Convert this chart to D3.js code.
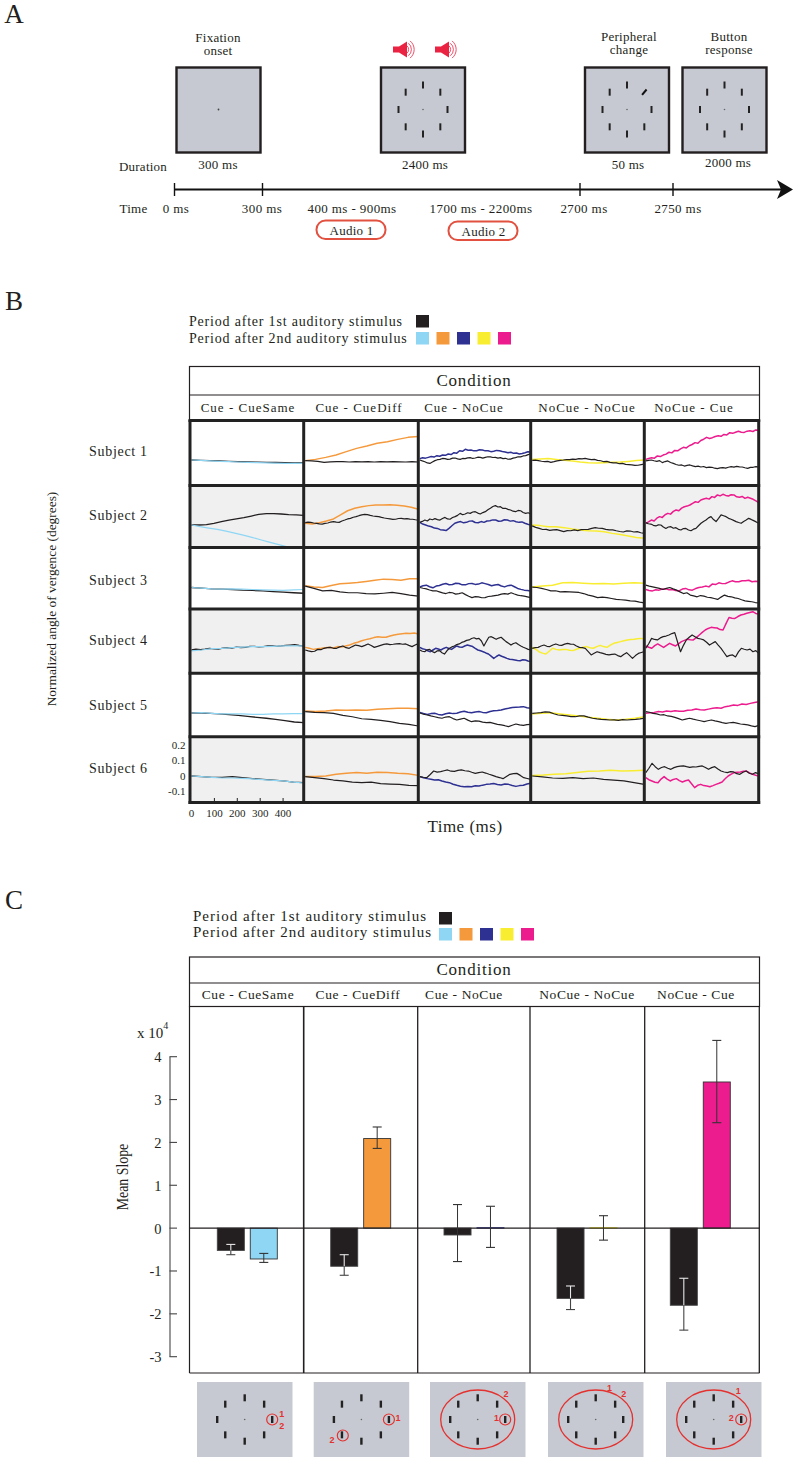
<!DOCTYPE html>
<html><head><meta charset="utf-8">
<script src="https://cdn.jsdelivr.net/npm/d3@7"></script>
<style>html,body{margin:0;padding:0;background:#fff}svg{display:block}text{font-family:"Liberation Serif",serif;fill:#231f20}</style>
</head><body><div id="chart"></div>
<script>
// ---------- data ----------
const conditions = ["Cue - CueSame","Cue - CueDiff","Cue - NoCue","NoCue - NoCue","NoCue - Cue"];
const subjects = ["Subject 1","Subject 2","Subject 3","Subject 4","Subject 5","Subject 6"];
const firstColor = "#231f20";
const secondColors = ["#8fd6f4","#f59a3c","#2e3192","#f9ed32","#ec1c8e"];
const legendLabels = ["Period after 1st auditory stimulus","Period after 2nd auditory stimulus"];
// vergence traces, hundredths of a degree, evenly sampled over 0-490 ms; one list per condition
const s1First = [
 [0,-.2,-.4,-.6,-.9,-1.1,-1.2,-1.4,-1.5,-1.6,-1.7,-1.8,-1.7],
 [-.4,-.6,-.9,-1.5,-1.2,-1.1,-1,-1.3,-1.1,-1.2,-1,-1.3,-1.1,-1.2,-1.1,-1.2,-1.3,-1.1,-1.3],
 [0,-.6,-1.1,-1.9,-2.2,-1.3,-.4,.2,.4,1,.9,.4,.6,1.2,1.3,.7,.4,1,.9,1.4,1.5,1,1.3,1.8,1.7,1.2,1.7,2.1,2,1.6,1.7,1.2,1.5,.9,1.1,.5,.6,1.2,1.5,2.1,2,2.6,2.8,3.5,3.9],
 [-.2,-.1,-.4,-.8,-1.1,-.9,-1.5,-1.1,-.6,-.2,0,.3,.2,.6,.4,.9,.7,1,.6,.2,.4,-.2,-.5,-1.1,-.9,-1.5,-1.8,-1.9,-2.4,-2.2,-2.8,-3,-3.2,-3.5,-3.4,-3,-2.6],
 [-.6,-.2,0,-.5,-.9,-.4,-1.7,-1,-.6,-1.6,-2.2,-2.9,-3.4,-3.2,-3.9,-3.5,-3.2,-3.8,-4.3,-4,-4.5,-4.2,-4.9,-4.6,-4.7,-5.3,-5.6,-5.1,-4.9,-5.2,-4.7,-4.3,-4.6,-4.1,-4.4,-4.5,-5,-5.4,-4.8,-4.7,-4.3,-4.5]];
const s1Second = [
 [0,-.3,-.6,-.9,-1.1,-1.3,-1.5,-1.7,-1.9,-2,-2.2,-2.2,-2],
 [-.4,.4,1.7,3.2,5.4,7.5,9,10.8,11.8,13.3,14.6,15.2],
 [.9,1.5,1.2,1.7,2.2,1.9,2.8,2.4,3.2,3,3.9,3.5,4.7,4.4,6,5.6,6.9,6.3,6.5,5.9,6,6.6,6.5,5.9,6,5.4,5.6,6.2,6,5.5,5.2,4.7,5,4.3,4.5,3.9,4.2,4.7,5.3,5.2],
 [.4,.6,.9,.4,-.2,-.6,-1.3,-1.7,-1.9,-1.7,-1.5,-1.3,-.9,-.4,0],
 [.4,1,1.5,1.2,2.6,2.2,3.2,3.8,5,4.6,6.2,5.9,7.2,8.2,7.8,9.2,10,11.2,10.8,12.6,13.4,14.6,13.9,14.4,15.2,15.7,15.3,16.5,16.2,17.6,17.2,17.9,18.5,17.9,17.8,18.6,18.9,18.4,19.4,19.2]];
const s2First = [
 [0,0,.2,1.1,2.2,3.2,3.9,4.7,5.8,6.9,7.3,7.3,7.1,6.7,6.5,6.2],
 [1.5,1.9,1.7,1.3,1.1,.7,.6,1,1.3,1.9,2.2,1.8,1.7,2.6,3.2,3.9,4.3,5,5.4,6,6.5,6.8,6.7,6.2,5.8,5.6,5.4,4.9,4.5,4.2,3.9,3.6,3.7,4.2,4.3,4,4.1,3.8,3.7,3.4,3.2],
 [1.7,2.3,3.2,2.6,3.9,3.4,4.1,3.5,3.2,4.2,4.9,3.9,3.7,4.8,5.4,6.2,7.5,6.6,7.1,7.9,7.5,8.4,8.6,7.7,7.1,8,8.6,9.8,10.8,11.9,12.5,11.6,11.8,10.7,10.8,10.1,9.7,8.9,8.6,9.4,9.2,8.1,7.5,7.9,7.1],
 [-.6,-1.5,-2.2,-2.9,-2.8,-3.5,-3.1,-3,-3.6,-4.3,-3.6,-3.7,-3.2,-3.6,-3,-2.9,-2.8,-2.2,-1.7,-2.1,-2.2,-2.8,-3.2,-3.1,-3.7,-4.2,-4.5,-3.8,-3.9,-4.5,-4.3,-5,-5.4],
 [1.5,.8,.6,-.2,-.6,.1,0,-1.3,-2.2,-1.3,-1.1,-2.1,-1.7,-2.8,-3.2,-2.3,-2.2,-3.2,-3.7,-2.7,-2.2,-.5,1.1,2.3,3.2,4.6,5.4,3.5,2.2,4.3,6.5,6,5.4,4.3,3.7,3,2.2,1.6,1.1,2.3,3.2,4.3,3.6,2.8,2,1.1]];
const s2Second = [
 [0,-1.1,-2,-2.8,-4,-5.2,-6.5,-8,-9.5,-11,-12.5,-14,-15.5,-17],
 [1.1,.6,1.5,2.6,3.9,6.5,9.2,10.8,11.8,12.5,12.9,12.9,13.1,12.7,12.3,11.4,10.1],
 [1.7,.6,0,-.7,-1.1,-2,-2.2,-3,-3.2,-3.6,-2.2,-.5,1.1,1.8,2.2,1.4,1.7,2.5,2.6,1.6,1.5,2.2,1.7,2.6,2.8,3.3,3.2,2.4,2.6,3.4,3.2,2.5,2.8,2.1,1.7,2,1.1,.5,0],
 [0,-.4,-1.1,-1.1,-1.7,-2.6,-3.2,-3.7,-3.9,-4.3,-5.4,-6.2,-7.1,-8,-8.6],
 [1.1,2,3.2,2.6,4.4,5.4,4.9,6.6,7.5,7,8.8,9.7,9.2,10.9,11.8,12.2,12.9,14,15,14.6,16.1,16.8,17.2,16.7,18.3,17.8,19.4,18.8,19.8,19.1,18.7,19.5,19.4,18.2,17.9,18.4,17.2,17.9,17.3,16.6,15.5,14.4]];
const s3First = [
 [0,-.4,-.9,-1.1,-1.3,-1.7,-1.9,-2.2,-2.6,-3,-3.4,-3.7],
 [.9,-.6,-2.2,-1.9,-2.8,-3.4,-3.4,-3.9,-4.1,-3.7,-3.2,-3.9,-4.9,-5.6],
 [0,-.5,-.9,-1.6,-2.2,-2.1,-2.8,-3.5,-3.9,-3.2,-3.4,-4.3,-3.9,-3.4,-4.6,-5.6,-6.5,-5.9,-6,-6.6,-6.5,-5.8,-5.6,-5.2,-4.9,-4.3,-3.9,-4.3,-3.4,-4.2,-4.9,-5.3,-5.6,-6,-6.5],
 [.2,0,-.6,-1.3,-2.2,-2.1,-2.8,-2.6,-2.8,-3,-3.2,-3.9,-4.9,-5.6,-6.5,-6.2,-6.5,-7.1,-7.7,-7.9,-8.2,-8.6,-8.8,-9.4,-9.9],
 [1.5,.9,.4,-.1,-.6,-1.3,-.6,0,-.9,-1.7,-2.8,-3.9,-3.4,-4.9,-5.4,-6,-5.2,-5.6,-6.3,-6.5,-7.1,-7.7,-6.2,-4.9,-5.7,-6,-6.7,-7.1,-7.9,-8.6,-8.9,-9.2,-9.7,-9.9]];
const s3Second = [
 [0,-.4,-.9,-1.1,-.9,-1.1,-1.3,-1.5,-1.7,-1.9,-1.5,-1.3],
 [1.1,.4,0,1.3,2.4,2.8,3.2,3.9,4.7,5.4,5.2,4.7,5.6,5.6],
 [.4,1.1,1.5,.5,-.2,.9,1.3,2.1,2.6,1.8,1.9,2.7,2.6,1.7,1.7,2.5,2.6,2,2.2,3,2.5,1.9,1.1,1.6,1.9,1,.4,1.2,1.5,.5,-.6,-1.2,-1.7,-1.9,-2.2],
 [.4,.9,1.5,3,3.2,2.8,2.4,2.6,2.2,2.8,3,2.8],
 [-1.3,-1.9,-2.2,-1.5,-1.7,-1,-.9,-1.5,-1.3,-2,-2.2,-1,-.6,-1.5,-1.7,-.7,0,.3,.9,.4,2.2,1.9,3,2.5,2.6,3.5,4.3,3.7,3.7,4.4,4.3,4.7,3.7,4.1,3.9]];
const s4First = [
 [0,.5,.2,.6,1.1,.7,.6,1.2,1.5,1.2,1.9,1.6,1.7,2.3,2.4,2,2.2,2.7,2.6,2.3,2.6,3,3.2,3.4,2.9,2.6],
 [0,-.6,-1.1,-.8,.4,.2,1.1,1.5,1.7,1.1,1.1,2,2.6,1.5,1.1,2.2,3.2,2.8,2.2,3,3.9,2.9,1.7,2.3,3,3.6,3.9,3.5,3.7,4,4.1,3.7,3.9,3,2.2,3.2,4.1],
 [0,-.8,-1.1,.1,.4,-1,-1.7,-.6,-.4,-1.8,-2.6,-.5,1.1,2,2.6,3.5,3.9,4.9,5.4,6.2,6.5,7.4,7.9,7.2,7.5,5.8,2.6,5.5,8.2,8.6,7.8,6.9,7.7,8.2,6.8,5.4,4.4,3.2,4.2,4.7,3.5,2.6,1.8,1.1,.4,0],
 [1.1,1.5,1.7,2.6,3.2,2.4,2.2,3.2,3.9,3.2,3,3.8,4.3,3.8,3.7,2.6,1.7,1.5,1.1,-1,-3.2,-2.1,-1.1,-1.7,-2.2,-2.8,-3.2,-2.8,-2.6,-3.6,-4.3,-2.9,-1.7,-3.5,-5.4,-3.6,-2.2,-1.6,-1.1],
 [1.1,4,7.5,6.8,6.5,7.8,8.6,9,9.7,10.6,11.2,5,-1.1,3,6.5,8.2,9.7,8.6,7.5,7.1,6.5,5,3.2,4.3,5.4,3.2,1.1,-1.6,-4.3,-3.5,-3.2,-4.5,-1.2,1.1,.5,0,.6,-1.1,-.4,-2.2]];
const s4Second = [
 [-.6,0,.9,1.1,1.5,1.9,2.2,2.2,2.4,2.6,2.6,2.6],
 [1.7,1.2,.4,.8,1.1,1.5,1.7,1.3,2.2,1.9,2.6,3.2,4.3,5,6,6.7,7.3,8,8.6,8.3,8.2,9,9.7,10.2,10.5,10.8,10.7,10.9,10.3],
 [1.7,.8,.4,-.5,-1.1,0,1.1,.6,0,1,1.7,1,.4,1.6,2.6,1.9,1.7,2.6,3.2,2.7,2.2,1,0,-.5,-1.1,-1.9,-2.6,-4,-5.4,-4.2,-3.2,-4,-4.7,-5.4,-6,-6.2,-6.5,-6.8,-6.9,-6.3,-6.5,-7.1,-7.5],
 [1.7,.5,-1.1,-2,-2.6,-.8,1.1,.4,0,.3,.4,-.1,-.4,.5,1.1,1.8,2.2,1.5,1.1,2.2,3,2.2,1.7,3.1,4.3,4.9,5.4,6,6.5,6.7,6.9,7.3,7.5,7.1],
 [2.6,1.8,1.1,2.8,3.9,2.8,1.7,3,4.3,3.4,2.6,4,5.4,6.2,6.9,6.6,6.5,8,9.7,11.4,12.9,13.9,14.6,14.4,14.2,13.2,12.9,17,21,20.5,20.4,21.6,22.6,23.1,23.7,24.2,24.7,23.6,23.2]];
const s5First = [
 [0,0,-.2,-.6,-1.1,-1.5,-2.2,-2.8,-3.4,-4.1,-4.9,-5.8,-6.2],
 [.9,.4,.2,-.2,-1.5,-2.4,-3.7,-4.1,-4.7,-5.6,-6.7,-7.3,-8.4],
 [0,-.8,-1.3,-1.9,-2.4,-3,-3.4,-2.6,-2.4,-3.6,-4.5,-3.9,-3.4,-4.6,-5.6,-5.1,-5.2,-5.9,-6.2,-6.1,-6.7,-7.3,-7.7,-8.2,-8.8,-7.9,-7.1,-7.7,-8,-7.5,-7.3],
 [-.2,0,.2,.7,.6,-.5,-1.3,-1.5,-1.9,-2.3,-2.4,-1.8,-1.9,-2.7,-3.4,-3.8,-4.1,-4.3,-4.5,-4.4,-4.7,-4.3,-4.5,-4.3,-4.1,-3.8,-3.4],
 [.9,.5,-.2,-.6,-1.3,-1.1,-1.9,-2.2,-2.8,-3.6,-4.5,-3.9,-3.4,-4,-4.5,-5,-5.6,-5,-4.5,-5.1,-5.6,-6.2,-6.7,-6.3,-6,-6.5,-7.1,-7.4,-7.7,-8.3,-8.8,-8]];
const s5Second = [
 [0,.2,-.2,-.6,-.6,-.6,-.9,-.9,-.6,-.6,-.4,-.4],
 [1.3,.9,1.3,1.9,1.7,1.9,1.7,2.4,2.8,3,3,2.8],
 [.4,-.3,-.9,-.4,-.2,-.9,-1.3,-.5,0,-.4,-.2,.6,1.1,.5,.2,.7,.9,.4,.2,1,1.5,1.6,1.9,2.6,3,3.5,3.7,3.8,4.1,3.4,3],
 [-.6,-.2,.2,-.6,-1.3,-1.9,-2.8,-3.4,-4.1,-4.5,-4.1,-3.4,-2.4],
 [-.2,.1,.4,.9,.6,1.3,1,1.5,1.1,1.1,1.8,1.9,2.6,2.1,1.9,2.5,3,3.4,3.1,4.1,4.5,5.2,4.9,5.8,5.5,6.2,6.8,7.3]];
const s6First = [
 [0,-.4,-.9,-.9,-.4,-1.1,-1.7,-2.2,-2.6,-3.2,-3.9,-4.3],
 [-.4,-1.1,-1.7,-2.6,-3.2,-3.9,-4.3,-3.9,-4.9,-5.2,-5.4,-6,-6.2],
 [-.4,-.8,-1.1,1,3.2,2.5,2.8,3.4,3.9,3.1,3,3.6,3.9,3.4,3.2,2.4,1.7,2.2,2.6,1.9,1.1,.4,-.4,-1,-1.7,-.3,1.1,1.5,1.7,.4,-1.1,-1.6,-2.2],
 [0,-.6,-1.3,-1.5,-1.1,-1.7,-1.3,-2.2,-2.6,-3.2,-4.3,-5.4],
 [2.2,5,8.2,6,4.3,5.5,6,5,4.3,5.4,6,6.4,6.5,6,5.6,5.9,5.8,6.2,6.5,5.5,4.3,5.4,6,4.5,3.2,2.6,2.2,2.8,2.6,1.5,1.1,2.4,3.2,1.8,1.1,2.2,1.4]];
const s6Second = [
 [0,-.4,-.9,-1.3,-1.3,-1.5,-1.9,-2.4,-2.8,-3.2,-3.9,-4.5],
 [-.4,-.4,0,1.1,1.7,2.2,1.7,2.4,2.2,1.7,1.5,.4],
 [-.4,-1.1,-1.7,-2.1,-2.6,-2.4,-3.2,-3.9,-4.3,-5.3,-6,-6.6,-6.9,-6.7,-6.9,-6.3,-6.5,-5.9,-5.4,-5.2,-4.9,-5.5,-5.8,-5.2,-5.4,-6.1,-6.7,-6.2,-6,-5.2,-4.7],
 [.4,.6,1.1,1.5,2.2,3,3.2,3.7,3.2,3.4,3.7],
 [-1.1,-2.4,-3.2,-4,-4.3,-2,-.4,-2,-3.2,-2.2,-1.7,-3,-3.9,-3.1,-2.6,-5,-7.5,-6,-5.4,-6.2,-6.5,-6.9,-6.2,-5.4,-4.7,-3.9,-1.8,0,1.2,2.2,2.4,2.6,3,3.2,2,1.1,.5,0]];
const firstTraces = [s1First,s2First,s3First,s4First,s5First,s6First];
const secondTraces = [s1Second,s2Second,s3Second,s4Second,s5Second,s6Second];
const timeTicks = [0,100,200,300,400];
const vergenceTicks = [20,10,0,-10];
const vergenceLabels = ["0.2","0.1","0","-0.1"];
// mean slope (x 10^4)
const slopeFirst = [-.52,-.89,-.16,-1.64,-1.8];
const slopeFirstHi = [-.38,-.62,.55,-1.35,-1.17];
const slopeFirstLo = [-.62,-1.1,-.78,-1.9,-2.38];
const slopeSecond = [-.72,2.09,.01,.01,3.41];
const slopeSecondHi = [-.59,2.36,.51,.29,4.38];
const slopeSecondLo = [-.8,1.86,-.45,-.28,2.46];
const slopeTicks = [4,3,2,1,0,-1,-2,-3];
// trial timeline
const timelineLabels = ["0 ms","300 ms","400 ms - 900ms","1700 ms - 2200ms","2700 ms","2750 ms"];
const durations = ["300 ms","2400 ms","50 ms","2000 ms"];
const audioLabels = ["Audio 1","Audio 2"];

// ---------- setup ----------
const W=797,H=1462;
const svg=d3.select("#chart").append("svg").attr("width",W).attr("height",H).attr("viewBox",`0 0 ${W} ${H}`);
const ink="#231f20", panelGrey="#c6c9d1", red="#e4312f";
function txt(g,s,x,y,size,anchor="middle",extra={}){
  const t=g.append("text").attr("x",x).attr("y",y).attr("font-size",size).attr("text-anchor",anchor).text(s);
  for(const k in extra)t.attr(k,extra[k]);return t;
}
function seg(g,x1,y1,x2,y2,c,w){return g.append("line").attr("x1",x1).attr("y1",y1).attr("x2",x2).attr("y2",y2).attr("stroke",c).attr("stroke-width",w);}

// stimulus ring: eight bars round a fixation point
const ringAngles=[0,45,90,135,180,225,270,315];
function ring(g,cx,cy,rx,ry,mw,mh,skip){
  ringAngles.forEach(a=>{
    const r=a*Math.PI/180, x=cx+rx*Math.sin(r), y=cy-ry*Math.cos(r);
    if(skip===a){ g.append("rect").attr("x",x-mw/2).attr("y",y-mh/2).attr("width",mw).attr("height",mh).attr("fill","#111").attr("transform",`rotate(40 ${x} ${y})`); }
    else g.append("rect").attr("x",x-mw/2).attr("y",y-mh/2).attr("width",mw).attr("height",mh).attr("fill","#222");
  });
  g.append("circle").attr("cx",cx).attr("cy",cy).attr("r",.8).attr("fill","#666");
}

// ---------- A ----------
const A=svg.append("g");
const aS=13, aL={"letter-spacing":.25};
txt(A,"A",14,23,27);
txt(A,"Fixation",218,42,aS,"middle",aL);txt(A,"onset",218,55,aS,"middle",aL);
txt(A,"Peripheral",629,41,aS,"middle",aL);txt(A,"change",629,54,aS,"middle",aL);
txt(A,"Button",729,41,aS,"middle",aL);txt(A,"response",729,54,aS,"middle",aL);
const aPanels=[176.5,381,585,682.5];
aPanels.forEach((x,i)=>{
  A.append("rect").attr("x",x).attr("y",67.5).attr("width",84).attr("height",85).attr("fill",panelGrey).attr("stroke",ink).attr("stroke-width",2.4);
  if(i===0)A.append("circle").attr("cx",x+42).attr("cy",109.5).attr("r",.9).attr("fill","#444");
  else ring(A,x+42,109.5,24.5,24.5,2,7,i===2?45:null);
});
[404,446].forEach(cx=>{
  const s=A.append("g").attr("transform",`translate(${cx},49.5)`);
  s.append("path").attr("d","M-11,-3H-5L3,-8V8L-5,3H-11Z").attr("fill","#ea2342");
  [5,8,11].forEach(r=>s.append("path").attr("d",`M${r*.55},${-r*.78}A${r},${r} 0 0 1 ${r*.55},${r*.78}`).attr("fill","none").attr("stroke","#ea2342").attr("stroke-width",.8));
});
[[218],[425],[628],[728]].forEach((d,i)=>txt(A,durations[i],d[0],i===3?167:169,aS,"middle",aL));
txt(A,"Duration",143,171,aS,"middle",aL);txt(A,"Time",133.5,213,aS,"middle",aL);
seg(A,174.5,189.5,782,189.5,"#111",2.2);
[174.5,262.5,580,673].forEach(x=>seg(A,x,183,x,196,"#111",1.4));
A.append("path").attr("d","M777,180L793,189.5L777,199L781,189.5Z").attr("fill","#111");
[[176],[262],[352],[481],[584],[678]].forEach((d,i)=>txt(A,timelineLabels[i],d[0],213,aS,"middle",{"letter-spacing":.4}));
[[316.5,220.5],[448.5,221.5]].forEach((d,i)=>{
  A.append("rect").attr("x",d[0]).attr("y",d[1]).attr("width",69).attr("height",18.5).attr("rx",9).attr("fill","#fff").attr("stroke","#e2503f").attr("stroke-width",2);
  txt(A,audioLabels[i],d[0]+35,d[1]+14,aS,"middle",aL);
});

// ---------- legend helper ----------
function legend(g,tx,y1,y2,size,ls,base,sx,sp){
  txt(g,legendLabels[0],tx,y1+base,size,"start",{"letter-spacing":ls});
  txt(g,legendLabels[1],tx,y2+base,size,"start",{"letter-spacing":ls});
  g.append("rect").attr("x",sx).attr("y",y1).attr("width",13).attr("height",12.5).attr("fill",firstColor);
  secondColors.forEach((c,i)=>g.append("rect").attr("x",sx+i*sp).attr("y",y2).attr("width",13).attr("height",12.5).attr("fill",c));
}
function header(g,top,mid,bot,labelX,labelY,condY,size,ls){
  g.append("rect").attr("x",189.5).attr("y",top).attr("width",570).attr("height",bot-top).attr("fill","#fff").attr("stroke",ink).attr("stroke-width",1.2);
  seg(g,189.5,mid,759.5,mid,ink,1.2);
  txt(g,"Condition",474,condY,17,"middle",{"letter-spacing":.8});
  conditions.forEach((c,i)=>txt(g,c,labelX[i],labelY,size,"middle",{"letter-spacing":ls}));
}

// ---------- B ----------
const B=svg.append("g");
txt(B,"B",14,310,27);
legend(B,189,315,332,14,.8,11,416,20.5);
header(B,366.5,395,420,[248,359,464,587,694],411.5,386,13,1);
const colEdges=[190,303.7,418.3,530.7,644.3,758.7];
const rowEdges=[420.5,485.5,547.5,609,673.3,736.7,802.5];
const rowZero=[460,525,587.5,650,713,776];
rowEdges.slice(0,-1).forEach((y,r)=>{
  if(r%2===1)B.append("rect").attr("x",190).attr("y",y).attr("width",568.7).attr("height",rowEdges[r+1]-y).attr("fill","#f0f0f0");
});
const defs=svg.append("defs");
subjects.forEach((subj,r)=>{
  const yS=d3.scaleLinear().domain([-30,30]).range([rowZero[r]+46.5,rowZero[r]-46.5]);
  conditions.forEach((cond,c)=>{
    const id=`clip-${r}-${c}`;
    defs.append("clipPath").attr("id",id).append("rect").attr("x",colEdges[c]).attr("y",rowEdges[r]).attr("width",colEdges[c+1]-colEdges[c]).attr("height",rowEdges[r+1]-rowEdges[r]);
    const xS=d3.scaleLinear().domain([0,490]).range([colEdges[c]+1.5,colEdges[c+1]]);
    const draw=(vals,col,w)=>{
      const line=d3.line().x((d,i)=>xS(i/(vals.length-1)*490)).y(d=>yS(d));
      B.append("path").attr("d",line(vals)).attr("fill","none").attr("stroke",col).attr("stroke-width",w).attr("stroke-linejoin","round").attr("clip-path",`url(#${id})`);
    };
    if(c===0){ draw(firstTraces[r][c],firstColor,1.3); draw(secondTraces[r][c],secondColors[c],1.2); }
    else { draw(secondTraces[r][c],secondColors[c],1.5); draw(firstTraces[r][c],firstColor,1.2); }
  });
});
colEdges.forEach(x=>seg(B,x,420,x,804,"#222",3));
rowEdges.forEach(y=>seg(B,188.5,y,760.2,y,"#222",3));
subjects.forEach((s,r)=>txt(B,s,89,[456,520,585,645,710,773][r],14,"start",{"letter-spacing":.7}));
const xTime=d3.scaleLinear().domain([0,490]).range([191.5,303.7]);
const yVerg=d3.scaleLinear().domain([-30,30]).range([776+46.5,776-46.5]);
timeTicks.forEach(t=>{
  if(t>0)seg(B,xTime(t),798,xTime(t),801,"#222",1);
  txt(B,String(t),xTime(t),817,11);
});
vergenceTicks.forEach((v,i)=>txt(B,vergenceLabels[i],185.5,yVerg(v)+3.5,11,"end"));
txt(B,"Normalized angle of vergence (degrees)",0,0,13.4,"middle",{transform:"translate(56,599) rotate(-90)"});
txt(B,"Time (ms)",465,831.5,17,"middle",{"letter-spacing":.5});

// ---------- C ----------
const C=svg.append("g");
txt(C,"C",14,909,27);
legend(C,193,912,928,15,1,9,439,20.5);
header(C,957,983,1006.5,[248,358,464,587,696],999.3,975,13.5,.6);
const yS=d3.scaleLinear().domain([-3,4]).range([1356.7,1056.7]);
const barLeft=d3.scaleOrdinal(conditions,[217.3,330.7,444,557,670.3]);
const barBand=d3.scaleBand().domain(["first","second"]).range([0,60]).paddingInner(.18);
C.append("line").attr("x1",189.5).attr("y1",1006.5).attr("x2",189.5).attr("y2",1373).attr("stroke",ink).attr("stroke-width",1.2);
[303.7,417.7,530,644.7,759.3].forEach(x=>seg(C,x,1006.5,x,1373,ink,x===303.7?1.6:1.3));
seg(C,189.5,1373,759.5,1373,ink,1.2);
function errBar(g,cx,hi,lo){
  const cap=4.5, hy=yS(hi), ly=yS(lo);
  seg(g,cx,hy,cx,ly,"#333",1);
  seg(g,cx-cap,hy,cx+cap,hy,"#333",1.1);
  seg(g,cx-cap,ly,cx+cap,ly,"#333",1.1);
}
conditions.forEach((cond,i)=>{
  const x0=barLeft(cond);
  const put=(key,val,col,stroke)=>{
    const yT=Math.min(yS(val),yS(0)),h=Math.abs(yS(val)-yS(0));
    C.append("rect").attr("x",x0+barBand(key)).attr("y",yT).attr("width",barBand.bandwidth()).attr("height",h).attr("fill",col).attr("stroke",stroke).attr("stroke-width",.9);
  };
  put("first",slopeFirst[i],firstColor,"#444");
  put("second",slopeSecond[i],secondColors[i],Math.abs(slopeSecond[i])<.05?secondColors[i]:"#333");
});
seg(C,189.5,yS(0),759.5,yS(0),ink,1.2);
conditions.forEach((cond,i)=>{
  const x0=barLeft(cond), bw=barBand.bandwidth();
  const bar1=slopeFirst[i];
  if(bar1<-.3){
    // error bar straddles the end of a black bar: upper part sits inside it
    const cx=x0+bw/2;
    const hy=yS(slopeFirstHi[i]),ly=yS(slopeFirstLo[i]),ey=yS(bar1);
    seg(C,cx,hy,cx,ey,"#e8e8e8",1.1);seg(C,cx,ey,cx,ly,"#444",1.1);
    seg(C,cx-4.5,hy,cx+4.5,hy,"#e8e8e8",1.1);seg(C,cx-4.5,ly,cx+4.5,ly,"#444",1.1);
  } else errBar(C,x0+bw/2,slopeFirstHi[i],slopeFirstLo[i]);
  errBar(C,x0+barBand("second")+bw/2,slopeSecondHi[i],slopeSecondLo[i]);
});
// y axis
seg(C,170,yS(4),170,yS(-3),"#444",1.1);
slopeTicks.forEach(v=>{
  seg(C,169.5,yS(v),177,yS(v),"#444",1.1);
  txt(C,String(v),161.5,yS(v)+5.5,14.5,"end");
});
const xTen=C.append("text").attr("x",137).attr("y",1038).attr("font-size",15);
xTen.append("tspan").text("x 10");
xTen.append("tspan").text("4").attr("font-size",10).attr("dy",-9);
txt(C,"Mean Slope",0,0,16.5,"middle",{transform:"translate(128,1177) rotate(-90) scale(.84,1)"});

// cue diagrams
const cueX=[197,313.7,430,548,666];
const cueCircles=[[[27.5,0]],[[27.5,0],[-18.6,16]],[[27.5,0]],[],[[27.5,0]]];
const cueLabels=[[["1",37,-3],["2",37,9]],[["1",36.6,1],["2",-29.4,23]],[["1",18.7,1],["2",28.4,-23]],[["1",13.7,-29],["2",28,-22.5]],[["1",24.5,-25.5],["2",17.5,1]]];
const cueEllipse=[false,false,true,true,true];
cueX.forEach((x,i)=>{
  const g=C.append("g");
  g.append("rect").attr("x",x).attr("y",1382).attr("width",95.5).attr("height",75).attr("fill",panelGrey);
  const cx=x+47.7,cy=1419.5;
  ring(g,cx,cy,27.5,21.7,2.4,7,null);
  if(cueEllipse[i])g.append("ellipse").attr("cx",cx).attr("cy",cy).attr("rx",37).attr("ry",29.5).attr("fill","none").attr("stroke",red).attr("stroke-width",1.3);
  cueCircles[i].forEach(d=>g.append("circle").attr("cx",cx+d[0]).attr("cy",cy+d[1]).attr("r",5.5).attr("fill","none").attr("stroke",red).attr("stroke-width",1.2));
  cueLabels[i].forEach(d=>g.append("text").attr("x",cx+d[1]).attr("y",cy+d[2]).attr("font-size",9).attr("font-weight","bold").attr("text-anchor","middle").style("font-family","'Liberation Sans',sans-serif").style("fill",red).text(d[0]));
});
</script></body></html>
